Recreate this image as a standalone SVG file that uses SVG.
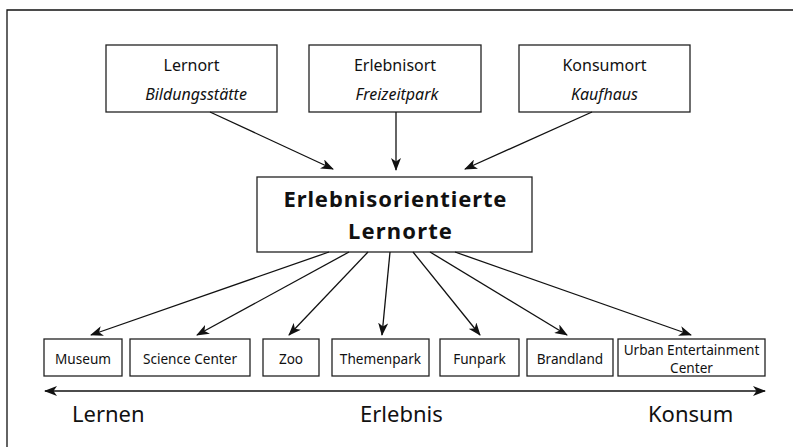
<svg xmlns="http://www.w3.org/2000/svg" width="793" height="447" viewBox="0 0 793 447">
<defs>
<marker id="ah" markerUnits="userSpaceOnUse" markerWidth="14" markerHeight="10" refX="12" refY="5" orient="auto">
<path d="M0,0 L13,5 L0,10 L3.5,5 z" fill="#111"/>
</marker>
<marker id="ahs" markerUnits="userSpaceOnUse" markerWidth="14" markerHeight="10" refX="12" refY="5" orient="auto-start-reverse">
<path d="M0,0 L13,5 L0,10 L3.5,5 z" fill="#111"/>
</marker>
<style>
.box{fill:#fff;stroke:#222;stroke-width:1.3}
.t{font-family:"Noto Sans","Liberation Sans",sans-serif;fill:#111;text-anchor:middle}
.top{font-size:16px}
.it{font-style:italic}
.sm{font-size:13.6px}
.big{font-size:22px;font-weight:bold}
.lab{font-size:22px;font-family:"Noto Sans","Liberation Sans",sans-serif;fill:#111}
.c{stroke:#111;stroke-width:1.3;fill:none;marker-end:url(#ah)}
</style>
</defs>
<rect width="793" height="447" fill="#fff"/>
<path d="M7,447 V10 H793" fill="none" stroke="#111" stroke-width="1.3"/>

<g id="lernort">
<rect class="box" x="106" y="45" width="171" height="67"/>
<text class="t top" x="191.5" y="71">Lernort</text>
<text class="t top it" x="196" y="100">Bildungsstätte</text>
</g>
<g id="erlebnisort">
<rect class="box" x="309" y="45" width="172" height="67"/>
<text class="t top" x="395" y="71">Erlebnisort</text>
<text class="t top it" x="397" y="100">Freizeitpark</text>
</g>
<g id="konsumort">
<rect class="box" x="519" y="45" width="171" height="67"/>
<text class="t top" x="604.5" y="71">Konsumort</text>
<text class="t top it" x="604.5" y="100">Kaufhaus</text>
</g>

<g id="center">
<rect class="box" x="257" y="177" width="275" height="75"/>
<text class="t big" x="395" y="207" textLength="223" lengthAdjust="spacing">Erlebnisorientierte</text>
<text class="t big" x="400" y="239" textLength="104" lengthAdjust="spacing">Lernorte</text>
</g>

<g id="museum"><rect class="box" x="44" y="339" width="78" height="37"/><text class="t sm" x="83" y="364">Museum</text></g>
<g id="science"><rect class="box" x="130" y="339" width="120" height="37"/><text class="t sm" x="190" y="364">Science Center</text></g>
<g id="zoo"><rect class="box" x="263" y="339" width="56" height="37"/><text class="t sm" x="291" y="364">Zoo</text></g>
<g id="themenpark"><rect class="box" x="332" y="339" width="97" height="37"/><text class="t sm" x="380.5" y="364">Themenpark</text></g>
<g id="funpark"><rect class="box" x="440" y="339" width="79" height="37"/><text class="t sm" x="479.5" y="364">Funpark</text></g>
<g id="brandland"><rect class="box" x="527" y="339" width="86" height="37"/><text class="t sm" x="570" y="364">Brandland</text></g>
<g id="urban"><rect class="box" x="618" y="339" width="147" height="37"/><text class="t sm" x="691.5" y="355">Urban Entertainment</text><text class="t sm" x="691.5" y="373">Center</text></g>

<g id="connectors">
<line class="c" x1="210" y1="112" x2="333" y2="169"/>
<line class="c" x1="396" y1="112" x2="396" y2="170"/>
<line class="c" x1="592" y1="112" x2="465" y2="169"/>
<line class="c" x1="329" y1="252" x2="91" y2="335"/>
<line class="c" x1="349" y1="252" x2="197" y2="335"/>
<line class="c" x1="368" y1="252" x2="289" y2="335"/>
<line class="c" x1="390" y1="252" x2="382" y2="335"/>
<line class="c" x1="413" y1="252" x2="480" y2="335"/>
<line class="c" x1="430" y1="252" x2="567" y2="335"/>
<line class="c" x1="455" y1="252" x2="691" y2="335"/>
<line x1="45" y1="391" x2="765" y2="391" stroke="#111" stroke-width="1.3" marker-start="url(#ahs)" marker-end="url(#ahs)"/>
</g>

<text class="lab" x="72" y="422">Lernen</text>
<text class="lab" x="360" y="422">Erlebnis</text>
<text class="lab" x="648" y="422">Konsum</text>
</svg>
